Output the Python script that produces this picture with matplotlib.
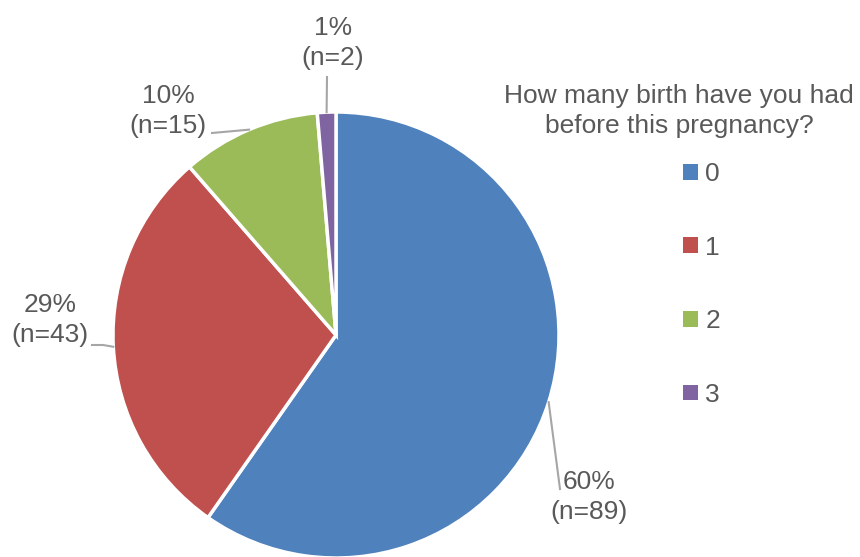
import numpy as np
import matplotlib.pyplot as plt
from matplotlib.patches import Patch

plt.rcParams["font.family"] = ["Liberation Sans", "DejaVu Sans"]

# -----------------------
# DATOS
# -----------------------
categorias = ["0", "1", "2", "3"]
conteos = [89, 43, 15, 2]
porcentajes = [60, 29, 10, 1]
colores = ["#4F81BD", "#C0504D", "#9BBB59", "#8064A2"]
titulo_leyenda = "How many birth have you had\nbefore this pregnancy?"

TEXTO = "#595959"
LINEA = "#A6A6A6"
FS = 19
W, H = 860, 557

# centro y radio del pie en pixeles
CX, CY, R = 336, 335, 223


def px(x, y):
    # pixel (origen arriba-izquierda) -> coordenadas del pie
    return (x - CX) / R, (CY - y) / R


# posiciones de etiquetas y quiebres de las lineas guia (pixeles)
pos_etiquetas = [(589, 497), (50, 320), (168, 111), (333, 43)]
quiebres = [
    [(560, 489)],
    [(103, 345), (92, 345)],
    [(212, 133)],
    [(327, 77)],
]

fig = plt.figure(figsize=(W / 100, H / 100), dpi=100)
ax = fig.add_axes([(CX - R) / W, (H - CY - R) / H, 2 * R / W, 2 * R / H])

wedges, _ = ax.pie(conteos, colors=colores, startangle=90, counterclock=False,
                   radius=1, wedgeprops=dict(edgecolor="white", linewidth=2.5))
ax.set_xlim(-1, 1)
ax.set_ylim(-1, 1)
ax.axis("off")

for w, n, p, (lx, ly), pts in zip(wedges, conteos, porcentajes, pos_etiquetas, quiebres):
    ang = np.deg2rad((w.theta1 + w.theta2) / 2)
    xs = [np.cos(ang)] + [px(*q)[0] for q in pts]
    ys = [np.sin(ang)] + [px(*q)[1] for q in pts]
    ax.plot(xs, ys, color=LINEA, lw=1.5, clip_on=False)
    tx, ty = px(lx, ly)
    ax.text(tx, ty, f"{p}%\n(n={n})", ha="center", va="center",
            fontsize=FS, color=TEXTO, linespacing=1.3)

# leyenda
fig.text(679 / W, 1 - 111 / H, titulo_leyenda, ha="center", va="center",
         fontsize=FS, color=TEXTO, linespacing=1.3)
handles = [Patch(facecolor=c, edgecolor="none") for c in colores]
fig.legend(handles, categorias, loc="upper left",
           bbox_to_anchor=(683 / W, 1 - 162 / H), frameon=False,
           fontsize=FS, labelcolor=TEXTO, handlelength=0.55, handleheight=0.55,
           handletextpad=0.3, labelspacing=1.88, borderpad=0, borderaxespad=0)

plt.savefig("out.png", dpi=100)
